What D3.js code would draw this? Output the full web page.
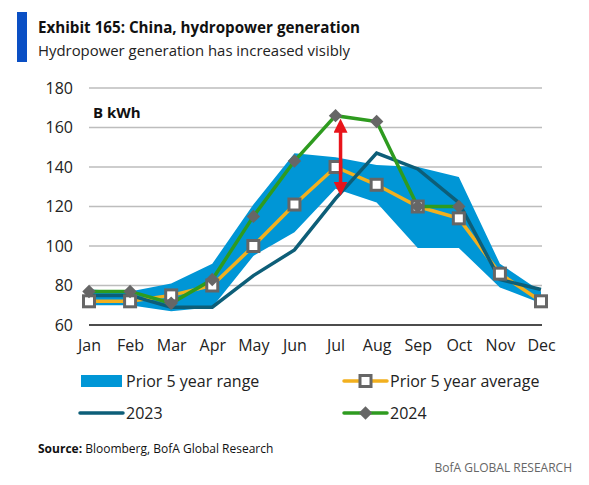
<!DOCTYPE html>
<html><head><meta charset="utf-8">
<script src="https://cdn.jsdelivr.net/npm/d3@7"></script>
<style>body{margin:0;background:#fff}</style>
</head><body><svg id="c" width="589" height="485"></svg>
<script>
const months = ["Jan","Feb","Mar","Apr","May","Jun","Jul","Aug","Sep","Oct","Nov","Dec"];
const rangeLow  = [70,70,67,69,95,107,129,122,99,99,79,71];
const rangeHigh = [78,77,81,91,121,147,145,141,140,135,91,77];
const avg5      = [72,72,75,80,100,121,140,131,120,114,86,72];
const y2023     = [75,75,69,69,85,98,124,147,139,122,83,78];
const y2024     = [77,77,71,83,115,143,166,163,120,120];
const yTicks    = [60,80,100,120,140,160,180];

const svg = d3.select("#c");
const font = "'Open Sans', 'Liberation Sans', Arial, sans-serif";
const x = d3.scalePoint().domain(months).range([89, 541]);
const y = d3.scaleLinear().domain([60,180]).range([325, 88]);

// header
svg.append("rect").attr("x",17).attr("y",12).attr("width",10).attr("height",50).attr("fill","#0A4FC4");
svg.append("text").attr("x",38).attr("y",33).attr("font-family",font).attr("font-weight","bold")
  .attr("font-size",16).attr("fill","#111").attr("textLength",322).attr("lengthAdjust","spacingAndGlyphs")
  .text("Exhibit 165: China, hydropower generation");
svg.append("text").attr("x",38).attr("y",56).attr("font-family",font)
  .attr("font-size",15).attr("fill","#222").attr("textLength",312).attr("lengthAdjust","spacingAndGlyphs")
  .text("Hydropower generation has increased visibly");

// grid
svg.append("g").selectAll("line").data(yTicks.filter(d=>d>60)).join("line")
  .attr("x1",89).attr("x2",542).attr("y1",d=>y(d)).attr("y2",d=>y(d))
  .attr("stroke","#BDBDBD").attr("stroke-width",1.5);

// y axis
const ya = svg.append("g").attr("transform","translate(89,0)").call(d3.axisLeft(y).tickValues(yTicks).tickSize(0).tickPadding(16));
ya.select(".domain").remove();
ya.selectAll("text").attr("font-family",font).attr("font-size",16).attr("fill","#222");

// x axis
const xa = svg.append("g").attr("transform","translate(0,325)").call(d3.axisBottom(x).tickSize(0).tickPadding(15));
xa.select(".domain").remove();
xa.selectAll("text").attr("font-family",font).attr("font-size",16).attr("fill","#222");

// band
const area = d3.area().x((d,i)=>x(months[i])).y0((d,i)=>y(rangeLow[i])).y1(d=>y(d));
svg.append("path").datum(rangeHigh).attr("d",area).attr("fill","#0096D6");

svg.append("line").attr("x1",89).attr("x2",542).attr("y1",y(60)).attr("y2",y(60)).attr("stroke","#111").attr("stroke-width",1.5);

const line = d3.line().x((d,i)=>x(months[i])).y(d=>y(d));
// average
svg.append("path").datum(avg5).attr("d",line).attr("fill","none").attr("stroke","#F2B01E").attr("stroke-width",3.5);
// 2023
svg.append("path").datum(y2023).attr("d",line).attr("fill","none").attr("stroke","#0D5E78").attr("stroke-width",3.5);
// 2024
svg.append("path").datum(y2024).attr("d",line).attr("fill","none").attr("stroke","#2E9B1F").attr("stroke-width",3.5);

// avg markers
svg.append("g").selectAll("rect").data(avg5).join("rect")
  .attr("x",(d,i)=>x(months[i])-5.5).attr("y",d=>y(d)-5.5).attr("width",11).attr("height",11)
  .attr("fill","#fff").attr("stroke","#666").attr("stroke-width",3);
// 2024 markers
svg.append("g").selectAll("path").data(y2024).join("path")
  .attr("d",d3.symbol(d3.symbolDiamond2 ? d3.symbolSquare : d3.symbolSquare, 90))
  .attr("transform",(d,i)=>`translate(${x(months[i])},${y(d)}) rotate(45)`)
  .attr("fill","#666");

// red arrow
const defs = svg.append("defs");
defs.append("marker").attr("id","ah").attr("viewBox","0 0 10 10").attr("refX",5).attr("refY",5)
  .attr("markerWidth",4).attr("markerHeight",4).attr("orient","auto-start-reverse")
  .append("path").attr("d","M0,0 L10,5 L0,10 Z").attr("fill","#E8141B");
svg.append("line").attr("x1",x("Jul")+5).attr("x2",x("Jul")+5).attr("y1",y(y2024[6])+10).attr("y2",y(127)-4)
  .attr("stroke","#E8141B").attr("stroke-width",3.5)
  .attr("marker-start","url(#ah)").attr("marker-end","url(#ah)");

// B kWh
svg.append("text").attr("x",93).attr("y",118).attr("font-family",font).attr("font-weight","bold")
  .attr("font-size",15).attr("fill","#111").text("B kWh");

// legend
const lg = svg.append("g").attr("font-family",font).attr("font-size",16).attr("fill","#222");
lg.append("rect").attr("x",81).attr("y",375).attr("width",41).attr("height",12).attr("fill","#0096D6");
lg.append("text").attr("x",126).attr("y",387).text("Prior 5 year range");
lg.append("line").attr("x1",80).attr("x2",123).attr("y1",413).attr("y2",413).attr("stroke","#0D5E78").attr("stroke-width",3.5).attr("stroke-linecap","round");
lg.append("text").attr("x",126).attr("y",419).text("2023");
lg.append("line").attr("x1",344).attr("x2",387).attr("y1",381).attr("y2",381).attr("stroke","#F2B01E").attr("stroke-width",3.5).attr("stroke-linecap","round");
lg.append("rect").attr("x",360).attr("y",375.5).attr("width",11).attr("height",11).attr("fill","#fff").attr("stroke","#666").attr("stroke-width",3);
lg.append("text").attr("x",390).attr("y",387).text("Prior 5 year average");
lg.append("line").attr("x1",344).attr("x2",387).attr("y1",413).attr("y2",413).attr("stroke","#2E9B1F").attr("stroke-width",3.5).attr("stroke-linecap","round");
lg.append("path").attr("d",d3.symbol(d3.symbolSquare,90)).attr("transform","translate(365.5,413) rotate(45)").attr("fill","#666");
lg.append("text").attr("x",390).attr("y",419).text("2024");

// source
const src = svg.append("text").attr("x",38).attr("y",453).attr("font-family",font).attr("font-size",12).attr("fill","#111");
src.append("tspan").attr("font-weight","bold").text("Source:");
src.append("tspan").text(" Bloomberg, BofA Global Research");
svg.append("text").attr("x",572).attr("y",472).attr("text-anchor","end").attr("font-family",font)
  .attr("font-size",12).attr("fill","#666").text("BofA GLOBAL RESEARCH");
</script></body></html>
